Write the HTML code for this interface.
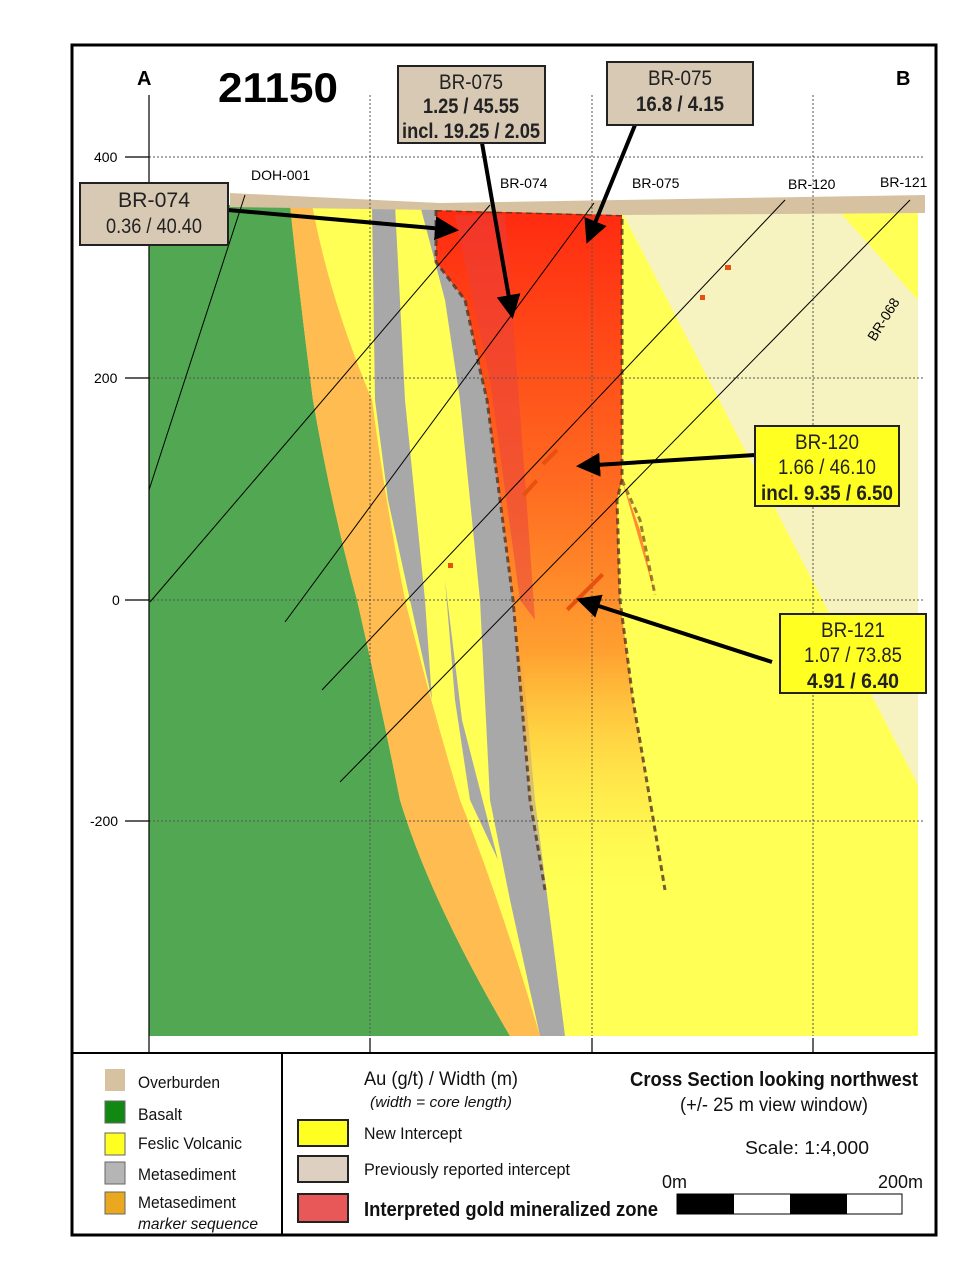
<!DOCTYPE html>
<html><head><meta charset="utf-8"><style>
html,body{margin:0;padding:0;background:#fff;}
svg{display:block;font-family:"Liberation Sans",sans-serif;}
</style></head><body>
<svg width="980" height="1268" viewBox="0 0 980 1268" xmlns="http://www.w3.org/2000/svg">
<defs>
<linearGradient id="rg" x1="0" y1="0" x2="0" y2="1">
<stop offset="0" stop-color="#ff2a10"/>
<stop offset="0.4" stop-color="#ff6a20"/>
<stop offset="0.65" stop-color="#ffa030"/>
<stop offset="1" stop-color="#ffff50" stop-opacity="0.2"/>
</linearGradient>
<marker id="ah" markerWidth="6" markerHeight="6" refX="5" refY="3" orient="auto"><path d="M0,0 L6,3 L0,6 z" fill="#000"/></marker>
</defs>
<rect width="980" height="1268" fill="#fff"/>
<rect x="149" y="205" width="769" height="831" fill="#ffff55"/>
<polygon points="622,212 840,212 918,300 918,785" fill="#f6f3c0"/>
<polygon points="840,212 918,212 918,300" fill="#ffff55"/>
<path d="M149,205 L290,205 Q300,300 313,400 Q330,500 357,600 Q380,700 400,800 Q430,900 510,1036 L149,1036 Z" fill="#52a852"/>
<path d="M290,205 L312,205 Q330,300 372,400 Q385,500 405,600 Q430,700 460,800 Q500,900 540,1036 L510,1036 Q430,900 400,800 Q380,700 357,600 Q330,500 313,400 Q300,300 290,205 Z" fill="#ffbc50"/>
<path d="M372,205 L395,205 Q400,300 405,400 L425,600 L432,700 L410,600 L388,500 L375,400 Z" fill="#a8a8a8"/>
<path d="M445,580 L462,720 L498,860 L470,800 L455,700 Z" fill="#a8a8a8"/>
<path d="M420,205 L440,205 L465,300 L487,400 L517,600 L535,800 L565,1036 L540,1036 L510,900 L490,800 L480,600 L460,400 L445,300 Z" fill="#a8a8a8"/>
<polygon points="436,210 622,215 622,480 617,500 620,600 633,700 650,800 668,890 545,890 530,800 513,600 487,400 465,300 436,262" fill="url(#rg)"/>
<polygon points="455,215 505,215 525,480 535,620 520,600 490,380" fill="#e84040" opacity="0.5"/>
<polygon points="622,480 655,595 640,530" fill="#ff8a30"/>
<polyline points="436,210 622,215 622,480 617,500 620,600 633,700 650,800 665,890" fill="none" stroke="#553322" stroke-width="3" stroke-dasharray="6,4" opacity="0.8"/>
<polyline points="436,210 436,262 465,300 480,370 487,400 500,500 513,600 530,800 545,890" fill="none" stroke="#553322" stroke-width="3" stroke-dasharray="6,4" opacity="0.8"/>
<polyline points="622,480 640,520 655,595" fill="none" stroke="#774422" stroke-width="3" stroke-dasharray="6,4" opacity="0.7"/>
<polygon points="230,193 440,203 620,200 925,195 925,213 622,215 436,210 230,207" fill="#d6c2a0"/>
<g stroke="#555" stroke-width="1" stroke-dasharray="2,2" fill="none">
<line x1="149" y1="157" x2="925" y2="157"/>
<line x1="149" y1="378" x2="925" y2="378"/>
<line x1="149" y1="600" x2="925" y2="600"/>
<line x1="149" y1="821" x2="925" y2="821"/>
<line x1="370" y1="95" x2="370" y2="1036"/>
<line x1="592" y1="95" x2="592" y2="1036"/>
<line x1="813" y1="95" x2="813" y2="1036"/>
</g>
<g stroke="#000" stroke-width="1.2">
<line x1="149" y1="95" x2="149" y2="1053"/>
<line x1="125" y1="157" x2="149" y2="157"/>
<line x1="125" y1="378" x2="149" y2="378"/>
<line x1="125" y1="600" x2="149" y2="600"/>
<line x1="125" y1="821" x2="149" y2="821"/>
<line x1="370" y1="1038" x2="370" y2="1053"/>
<line x1="592" y1="1038" x2="592" y2="1053"/>
<line x1="813" y1="1038" x2="813" y2="1053"/>
</g>
<g font-size="14" fill="#000">
<text x="94" y="162">400</text><text x="94" y="383">200</text><text x="112" y="605">0</text><text x="90" y="826">-200</text>
</g>
<g stroke="#000" stroke-width="1" fill="none">
<line x1="245" y1="195" x2="149" y2="490"/>
<line x1="490" y1="205" x2="150" y2="602"/>
<line x1="594" y1="203" x2="285" y2="622"/>
<line x1="785" y1="200" x2="322" y2="690"/>
<line x1="910" y1="200" x2="340" y2="782"/>
</g>
<g fill="#e85010">
<rect x="520" y="486" width="20" height="4" transform="rotate(-48 530 488)"/>
<rect x="560" y="590" width="50" height="4" transform="rotate(-45 585 592)"/>
<rect x="540" y="455" width="20" height="4" transform="rotate(-45 550 457)"/>
<rect x="448" y="563" width="5" height="5"/>
<rect x="700" y="295" width="5" height="5"/>
<rect x="725" y="265" width="6" height="5"/>
</g>
<g font-size="14" fill="#000">
<text x="251" y="180">DOH-001</text>
<text x="500" y="188">BR-074</text>
<text x="632" y="188">BR-075</text>
<text x="788" y="189">BR-120</text>
<text x="880" y="187">BR-121</text>
<text x="0" y="0" transform="translate(875,342) rotate(-58)">BR-068</text>
</g>
<text x="137" y="85" font-size="20" font-weight="bold">A</text>
<text x="896" y="85" font-size="20" font-weight="bold">B</text>
<text x="218" y="102" font-size="42" font-weight="bold" textLength="120" lengthAdjust="spacingAndGlyphs">21150</text>
<g stroke="#000" stroke-width="4" fill="none" marker-end="url(#ah)">
<line x1="228" y1="210" x2="455" y2="230"/>
<line x1="482" y1="143" x2="512" y2="315"/>
<line x1="635" y1="125" x2="588" y2="240"/>
<line x1="755" y1="455" x2="580" y2="466"/>
<line x1="772" y1="662" x2="580" y2="600"/>
</g>
<g stroke="#222" stroke-width="2">
<rect x="80" y="183" width="148" height="62" fill="#d8c9b4"/>
<rect x="398" y="66" width="147" height="77" fill="#d8c9b4"/>
<rect x="607" y="62" width="146" height="63" fill="#d8c9b4"/>
<rect x="755" y="426" width="144" height="80" fill="#ffff22"/>
<rect x="780" y="614" width="146" height="79" fill="#ffff22"/>
</g>
<g font-size="21" text-anchor="middle" fill="#222" lengthAdjust="spacingAndGlyphs">
<text x="154" y="207" textLength="72" lengthAdjust="spacingAndGlyphs">BR-074</text>
<text x="154" y="233" textLength="96" lengthAdjust="spacingAndGlyphs">0.36 / 40.40</text>
<text x="471" y="89" textLength="64" lengthAdjust="spacingAndGlyphs">BR-075</text>
<text x="471" y="113" font-weight="bold" textLength="96" lengthAdjust="spacingAndGlyphs">1.25 / 45.55</text>
<text x="471" y="138" font-weight="bold" textLength="138" lengthAdjust="spacingAndGlyphs">incl. 19.25 / 2.05</text>
<text x="680" y="85" textLength="64" lengthAdjust="spacingAndGlyphs">BR-075</text>
<text x="680" y="111" font-weight="bold" textLength="88" lengthAdjust="spacingAndGlyphs">16.8  / 4.15</text>
<text x="827" y="449" textLength="64" lengthAdjust="spacingAndGlyphs">BR-120</text>
<text x="827" y="474" textLength="98" lengthAdjust="spacingAndGlyphs">1.66 / 46.10</text>
<text x="827" y="500" font-weight="bold" textLength="132" lengthAdjust="spacingAndGlyphs">incl. 9.35 / 6.50</text>
<text x="853" y="637" textLength="64" lengthAdjust="spacingAndGlyphs">BR-121</text>
<text x="853" y="662" textLength="98" lengthAdjust="spacingAndGlyphs">1.07 / 73.85</text>
<text x="853" y="688" font-weight="bold" textLength="92" lengthAdjust="spacingAndGlyphs">4.91 / 6.40</text>
</g>
<rect x="72" y="45" width="864" height="1190" fill="none" stroke="#000" stroke-width="3"/>
<line x1="72" y1="1053" x2="936" y2="1053" stroke="#000" stroke-width="2"/>
<line x1="282" y1="1053" x2="282" y2="1235" stroke="#000" stroke-width="2"/>
<g stroke="#666" stroke-width="1">
<rect x="105" y="1069" width="20" height="22" fill="#d6c2a0" stroke="none"/>
<rect x="105" y="1101" width="20" height="22" fill="#118811"/>
<rect x="105" y="1133" width="20" height="22" fill="#ffff22"/>
<rect x="105" y="1162" width="20" height="22" fill="#b5b5b5"/>
<rect x="105" y="1192" width="20" height="22" fill="#e9a820"/>
</g>
<g font-size="17" fill="#111">
<text x="138" y="1088" textLength="82" lengthAdjust="spacingAndGlyphs">Overburden</text>
<text x="138" y="1120" textLength="44" lengthAdjust="spacingAndGlyphs">Basalt</text>
<text x="138" y="1149" textLength="104" lengthAdjust="spacingAndGlyphs">Feslic Volcanic</text>
<text x="138" y="1180" textLength="98" lengthAdjust="spacingAndGlyphs">Metasediment</text>
<text x="138" y="1208" textLength="98" lengthAdjust="spacingAndGlyphs">Metasediment</text>
<text x="138" y="1229" font-style="italic" font-size="16" textLength="120" lengthAdjust="spacingAndGlyphs">marker sequence</text>
<text x="364" y="1085" font-size="19" textLength="154" lengthAdjust="spacingAndGlyphs">Au (g/t) / Width (m)</text>
<text x="370" y="1107" font-style="italic" font-size="15" textLength="142" lengthAdjust="spacingAndGlyphs">(width = core length)</text>
<text x="364" y="1139" textLength="98" lengthAdjust="spacingAndGlyphs">New Intercept</text>
<text x="364" y="1175" textLength="206" lengthAdjust="spacingAndGlyphs">Previously reported  intercept</text>
<text x="364" y="1216" font-weight="bold" font-size="20" textLength="294" lengthAdjust="spacingAndGlyphs">Interpreted gold mineralized zone</text>
<text x="630" y="1086" font-weight="bold" font-size="20" textLength="288" lengthAdjust="spacingAndGlyphs">Cross Section looking northwest</text>
<text x="680" y="1111" font-size="19" textLength="188" lengthAdjust="spacingAndGlyphs">(+/- 25 m view window)</text>
<text x="745" y="1154" font-size="18" textLength="124" lengthAdjust="spacingAndGlyphs">Scale: 1:4,000</text>
<text x="662" y="1188" font-size="18">0m</text>
<text x="878" y="1188" font-size="18">200m</text>
</g>
<g stroke="#222" stroke-width="2">
<rect x="298" y="1120" width="50" height="26" fill="#ffff22"/>
<rect x="298" y="1156" width="50" height="26" fill="#ddd0c0"/>
<rect x="298" y="1194" width="50" height="28" fill="#e85858"/>
</g>
<rect x="677" y="1194" width="225" height="20" fill="#fff" stroke="#000" stroke-width="1"/>
<rect x="677" y="1194" width="57" height="20" fill="#000"/>
<rect x="790" y="1194" width="57" height="20" fill="#000"/>
</svg>
</body></html>
